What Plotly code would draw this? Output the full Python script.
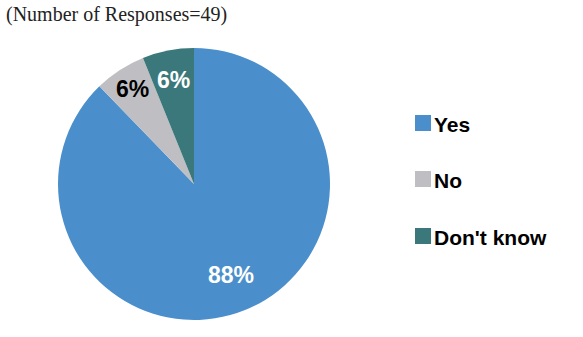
import math
import plotly.graph_objects as go

labels = ["Yes", "No", "Don't know"]
values = [43, 3, 3]  # n = 49
colors = ["#4A8FCC", "#BFBFC3", "#3B787B"]
text_colors = ["white", "black", "white"]
title_text = "(Number of Responses=49)"

W, H = 583, 337
cx, cy, r = 194, 184, 136
label_radius = [0.72, 0.83, 0.78]  # fraction of radius where slice labels sit
LABEL_FONT = "Liberation Sans Narrow, Arial Narrow, Liberation Sans, Arial"

fig = go.Figure(go.Pie(
    labels=labels,
    values=values,
    sort=False,
    direction="clockwise",
    rotation=0,
    marker=dict(colors=colors, line=dict(width=0)),
    textinfo="none",
    showlegend=False,
    hoverinfo="label+percent",
    domain=dict(x=[(cx - r) / W, (cx + r) / W], y=[1 - (cy + r) / H, 1 - (cy - r) / H]),
))

# slice labels positioned at the middle angle of each slice
total = sum(values)
cum = 0
for v, tc, rf in zip(values, text_colors, label_radius):
    mid = (cum + v / 2) / total * 2 * math.pi
    cum += v
    px = cx + rf * r * math.sin(mid)
    py = cy - rf * r * math.cos(mid)
    fig.add_annotation(xref="paper", yref="paper", x=px / W, y=1 - py / H,
                       xanchor="center", yanchor="middle", showarrow=False,
                       text=f"{round(100 * v / total)}%",
                       font=dict(family=LABEL_FONT, size=23, color=tc, weight="bold"))

# manual legend
leg_x0 = 415
leg_y = [123, 179, 236]
sq = 16
for lab, col, yy in zip(labels, colors, leg_y):
    fig.add_shape(type="rect", xref="paper", yref="paper",
                  x0=leg_x0 / W, x1=(leg_x0 + sq) / W,
                  y0=1 - (yy + sq / 2) / H, y1=1 - (yy - sq / 2) / H,
                  fillcolor=col, line=dict(width=0))
    fig.add_annotation(xref="paper", yref="paper", x=(leg_x0 + sq + 1) / W, y=1 - (yy + 1) / H,
                       xanchor="left", yanchor="middle", showarrow=False, text=lab,
                       font=dict(family=LABEL_FONT, size=21, color="black", weight="bold"))

fig.add_annotation(xref="paper", yref="paper", x=4 / W, y=1 - 1 / H, xanchor="left", yanchor="top",
                   showarrow=False, text=title_text,
                   font=dict(family="Liberation Serif, Times New Roman, serif", size=20, color="#222"))

fig.update_layout(width=W, height=H, margin=dict(l=0, r=0, t=0, b=0),
                  paper_bgcolor="white", plot_bgcolor="white")
fig.write_html("out.html")
